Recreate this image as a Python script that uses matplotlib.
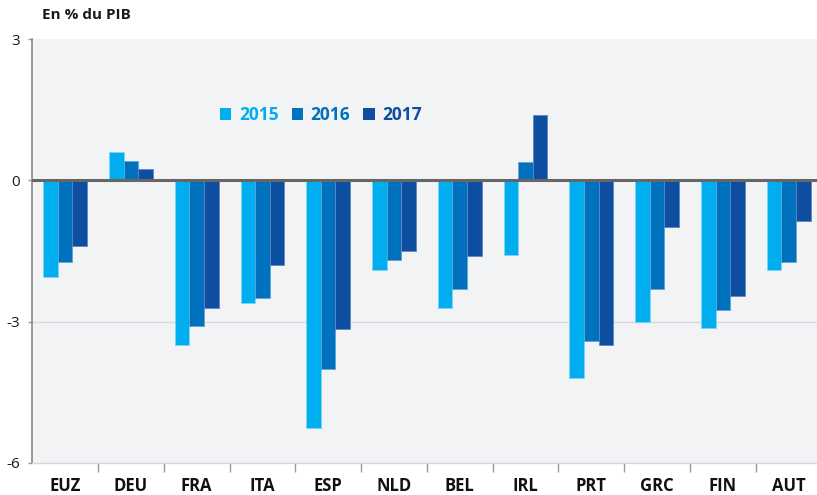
import numpy as np
import matplotlib
matplotlib.use("Agg")
import matplotlib.pyplot as plt
from matplotlib.patches import Patch

plt.rcParams['font.family'] = ['Open Sans', 'DejaVu Sans']

countries = ["EUZ", "DEU", "FRA", "ITA", "ESP", "NLD", "BEL", "IRL", "PRT", "GRC", "FIN", "AUT"]
years = ["2015", "2016", "2017"]
v2015 = [-2.06, 0.60, -3.50, -2.60, -5.25, -1.90, -2.70, -1.58, -4.20, -3.00, -3.13, -1.91]
v2016 = [-1.73, 0.40, -3.10, -2.50, -4.00, -1.70, -2.30, 0.38, -3.40, -2.30, -2.75, -1.73]
v2017 = [-1.39, 0.25, -2.70, -1.80, -3.15, -1.49, -1.60, 1.38, -3.50, -1.00, -2.46, -0.86]
colors = ["#00aeef", "#0071bc", "#0d4ea1"]
edges = ["#7fd4f5", "#5fa3d6", "#5f86c2"]

fig = plt.figure(figsize=(8.17, 4.95), dpi=100)
ax = fig.add_axes([32.2 / 817, 1 - 463 / 495, (817 - 32.2) / 817, (463 - 39) / 495])
ax.set_facecolor("#f2f3f5")

x = np.arange(len(countries))
w = 0.222
for i, vals in enumerate([v2015, v2016, v2017]):
    ax.bar(x + (i - 1) * w, vals, width=w, color=colors[i], edgecolor=edges[i],
           linewidth=0.6, zorder=3)

ax.axhline(0, color="#666666", lw=2.2, zorder=4)
ax.axhline(-3, color="#d6d8db", lw=1.0, zorder=1)

ax.set_ylim(-6, 3)
ax.set_xlim(-0.5, 11.5 - 4.5 / 65.77)
ax.set_yticks([-6, -3, 0, 3])
ax.set_yticklabels(["-6", "-3", "0", "3"])
ax.tick_params(axis="y", length=3, width=1, color="#999999", pad=6, labelsize=11,
               labelcolor="#1a1a1a")

ax.set_xticks(x)
ax.set_xticklabels(countries, fontweight="bold")
ax.tick_params(axis="x", which="major", length=0, pad=10, labelsize=12, labelcolor="#111111")
ax.set_xticks(np.arange(0.5, 11.5, 1), minor=True)
ax.tick_params(axis="x", which="minor", length=6.5, width=1, color="#999999")

for s in ["top", "right"]:
    ax.spines[s].set_visible(False)
ax.spines["left"].set_color("#888888")
ax.spines["left"].set_linewidth(1.2)
ax.spines["bottom"].set_color("#d6d8db")
ax.spines["bottom"].set_linewidth(1.0)

handles = [Patch(facecolor=c, edgecolor="none") for c in colors]
leg = ax.legend(handles, years, loc="center", bbox_to_anchor=(0.368, 0.821), ncol=3,
                frameon=False, handlelength=0.65, handleheight=0.65, handletextpad=0.45,
                columnspacing=0.75, labelcolor=colors,
                prop={"weight": "bold", "size": 12.5})

fig.text(42 / 817, 1 - 19 / 495, "En % du PIB", fontsize=11, fontweight="bold",
         color="#1a1a1a", va="baseline")

fig.savefig("out.png", dpi=100)
